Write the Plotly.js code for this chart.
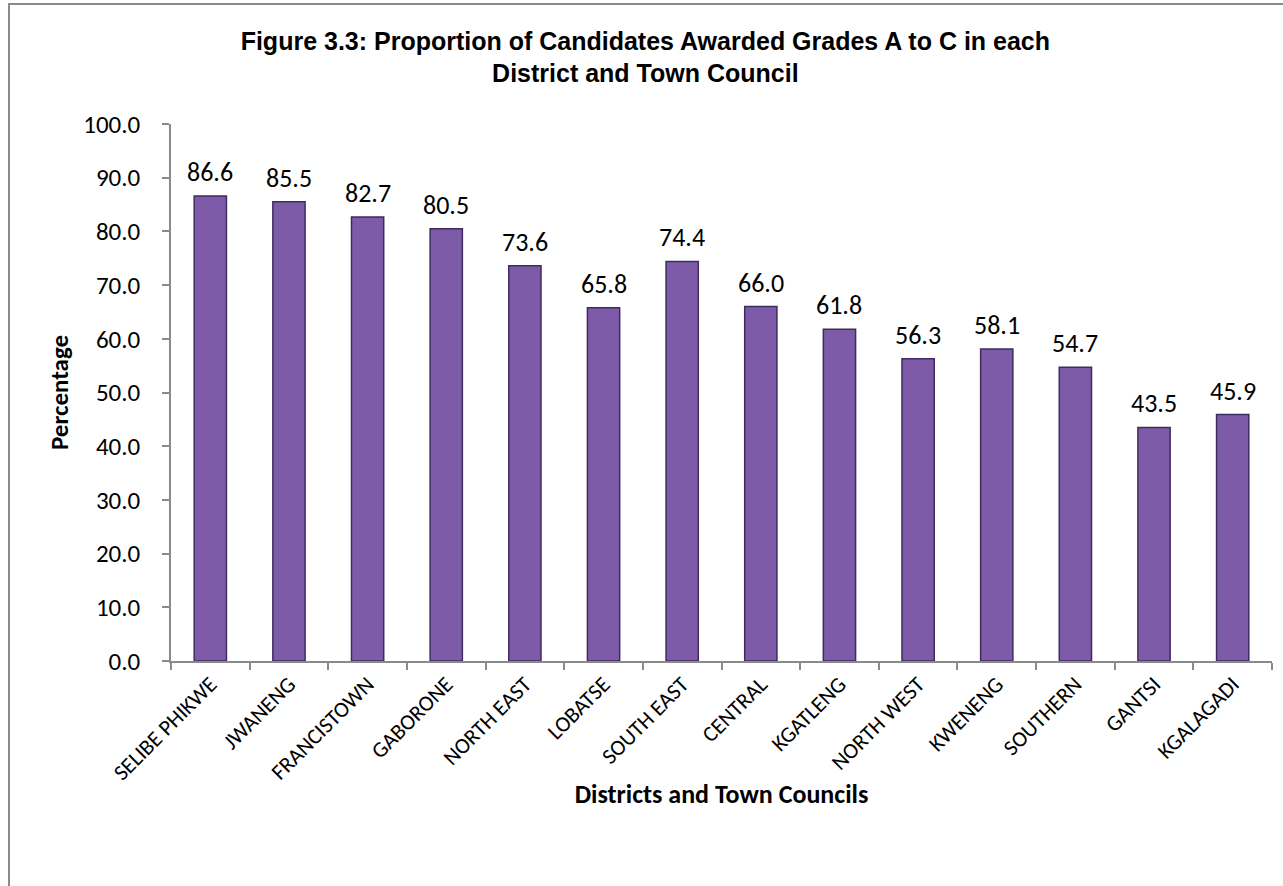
<!DOCTYPE html>
<html>
<head>
<meta charset="utf-8">
<script src="https://cdn.plot.ly/plotly-3.0.1.min.js"></script>
<style>
  html, body { margin: 0; padding: 0; background: #ffffff; }
  #frame { position: absolute; left: 8px; top: 3px; width: 1300px; height: 900px;
           border-left: 2px solid #8a8a8a; border-top: 2px solid #8a8a8a; background: #ffffff; }
  #chart { position: absolute; left: 0; top: 0; width: 1283px; height: 886px; }
</style>
</head>
<body>
<div id="frame"></div>
<div id="chart"></div>
<script>
const categories = ["SELIBE PHIKWE", "JWANENG", "FRANCISTOWN", "GABORONE", "NORTH EAST", "LOBATSE",
  "SOUTH EAST", "CENTRAL", "KGATLENG", "NORTH WEST", "KWENENG", "SOUTHERN", "GANTSI", "KGALAGADI"];
const percentages = [86.6, 85.5, 82.7, 80.5, 73.6, 65.8, 74.4, 66.0, 61.8, 56.3, 58.1, 54.7, 43.5, 45.9];
const yTickValues = [0, 10, 20, 30, 40, 50, 60, 70, 80, 90, 100];

const calibri = "Carlito, Lato, 'Open Sans', sans-serif";

const trace = {
  type: "bar",
  x: categories,
  y: percentages,
  width: 0.41,
  marker: { color: "#7e5ba8", line: { color: "#3f2c5e", width: 1.5 } },
  hoverinfo: "x+y"
};

const labels = categories.map((c, i) => ({
  x: c, y: percentages[i], xref: "x", yref: "y",
  text: percentages[i].toFixed(1), showarrow: false,
  yanchor: "bottom", yshift: 6,
  font: { family: calibri, size: 26, color: "#000000" }
}));

const layout = {
  width: 1283, height: 886,
  paper_bgcolor: "rgba(0,0,0,0)", plot_bgcolor: "rgba(0,0,0,0)",
  margin: { l: 171, r: 11, t: 124, b: 225 },
  showlegend: false,
  title: {
    text: "<b>Figure 3.3: Proportion of Candidates Awarded Grades A to C in each<br>District and Town Council</b>",
    font: { family: "'Liberation Sans', Arial, sans-serif", size: 25, color: "#000000" },
    x: 0.503, xref: "container", y: 0.944, yref: "container", yanchor: "top"
  },
  xaxis: {
    type: "category",
    tickangle: -45,
    tickson: "boundaries",
    ticks: "outside", ticklen: 7, tickcolor: "#8a8a8a", tickwidth: 1.5,
    ticklabelstandoff: 0,
    showline: true, linecolor: "#8a8a8a", linewidth: 1.5,
    showgrid: false,
    tickfont: { family: calibri, size: 22, color: "#000000" },
    title: { text: "<b>Districts and Town Councils</b>", font: { family: calibri, size: 26, color: "#000000" }, standoff: 0 }
  },
  yaxis: {
    range: [0, 100],
    tickvals: yTickValues,
    tickformat: ".1f",
    ticks: "outside", ticklen: 7, tickcolor: "#8a8a8a", tickwidth: 1.5,
    ticklabelstandoff: 17,
    showline: true, linecolor: "#8a8a8a", linewidth: 1.5,
    showgrid: false, zeroline: false,
    tickfont: { family: calibri, size: 25, color: "#000000" },
    title: { text: "<b>Percentage</b>", font: { family: calibri, size: 25, color: "#000000" }, standoff: 8 }
  },
  annotations: labels,
  bargap: 0.59
};

Plotly.newPlot("chart", [trace], layout, { displayModeBar: false });
</script>
</body>
</html>
